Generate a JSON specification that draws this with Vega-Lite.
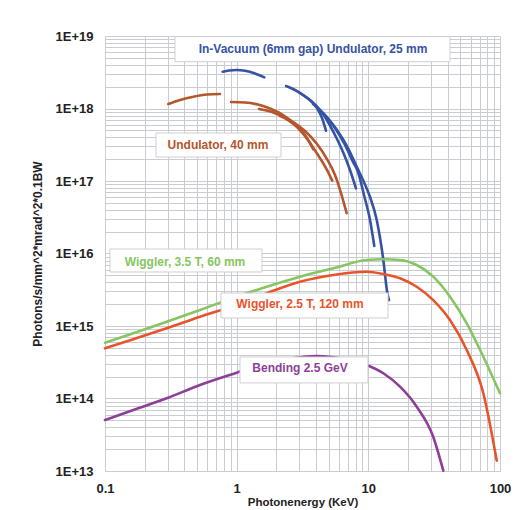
{
  "$schema": "https://vega.github.io/schema/vega-lite/v6.json",
  "width": 395,
  "height": 435,
  "autosize": "none",
  "padding": {"left": 105, "top": 36, "right": 20, "bottom": 39},
  "background": "white",
  "config": {
    "view": {"stroke": null},
    "font": "Liberation Sans"
  },
  "datasets": {
    "curves": [
      {"series": "invac", "seg": "b1", "e": 0.783, "b": 3.22e18},
      {"series": "invac", "seg": "b1", "e": 0.875, "b": 3.34e18},
      {"series": "invac", "seg": "b1", "e": 1.0, "b": 3.40e18},
      {"series": "invac", "seg": "b1", "e": 1.157, "b": 3.31e18},
      {"series": "invac", "seg": "b1", "e": 1.377, "b": 3.04e18},
      {"series": "invac", "seg": "b1", "e": 1.621, "b": 2.69e18},
      {"series": "invac", "seg": "b2", "e": 2.371, "b": 2.04e18},
      {"series": "invac", "seg": "b2", "e": 2.773, "b": 1.80e18},
      {"series": "invac", "seg": "b2", "e": 3.19, "b": 1.535e18},
      {"series": "invac", "seg": "b2", "e": 3.669, "b": 1.268e18},
      {"series": "invac", "seg": "b2", "e": 4.075, "b": 1.016e18},
      {"series": "invac", "seg": "b2", "e": 4.447, "b": 7.39e17},
      {"series": "invac", "seg": "b2", "e": 4.769, "b": 4.94e17},
      {"series": "invac", "seg": "b3", "e": 3.027, "b": 1.636e18},
      {"series": "invac", "seg": "b3", "e": 3.669, "b": 1.268e18},
      {"series": "invac", "seg": "b3", "e": 4.295, "b": 9.54e17},
      {"series": "invac", "seg": "b3", "e": 4.939, "b": 6.51e17},
      {"series": "invac", "seg": "b3", "e": 5.681, "b": 4.04e17},
      {"series": "invac", "seg": "b3", "e": 6.423, "b": 2.51e17},
      {"series": "invac", "seg": "b3", "e": 7.256, "b": 1.419e17},
      {"series": "invac", "seg": "b3", "e": 8.059, "b": 7.93e16},
      {"series": "invac", "seg": "b4", "e": 3.802, "b": 1.153e18},
      {"series": "invac", "seg": "b4", "e": 4.606, "b": 8.40e17},
      {"series": "invac", "seg": "b4", "e": 5.583, "b": 5.38e17},
      {"series": "invac", "seg": "b4", "e": 6.651, "b": 3.14e17},
      {"series": "invac", "seg": "b4", "e": 7.647, "b": 1.83e17},
      {"series": "invac", "seg": "b4", "e": 8.348, "b": 1.33e17},
      {"series": "invac", "seg": "b4", "e": 9.27, "b": 6.41e16},
      {"series": "invac", "seg": "b4", "e": 10.3, "b": 2.90e16},
      {"series": "invac", "seg": "b4", "e": 11.1, "b": 1.27e16},
      {"series": "invac", "seg": "b5", "e": 4.686, "b": 8.13e17},
      {"series": "invac", "seg": "b5", "e": 5.781, "b": 5.05e17},
      {"series": "invac", "seg": "b5", "e": 7.007, "b": 2.85e17},
      {"series": "invac", "seg": "b5", "e": 8.059, "b": 1.66e17},
      {"series": "invac", "seg": "b5", "e": 9.11, "b": 1.03e17},
      {"series": "invac", "seg": "b5", "e": 10.3, "b": 6.02e16},
      {"series": "invac", "seg": "b5", "e": 11.58, "b": 2.90e16},
      {"series": "invac", "seg": "b5", "e": 13.0, "b": 8.13e15},
      {"series": "invac", "seg": "b5", "e": 13.94, "b": 2.85e15},
      {"series": "invac", "seg": "b5", "e": 14.35, "b": 2.28e15},
      {"series": "und", "seg": "r1", "e": 0.3026, "b": 1.153e18},
      {"series": "und", "seg": "r1", "e": 0.3713, "b": 1.31e18},
      {"series": "und", "seg": "r1", "e": 0.4686, "b": 1.455e18},
      {"series": "und", "seg": "r1", "e": 0.5953, "b": 1.56e18},
      {"series": "und", "seg": "r1", "e": 0.747, "b": 1.585e18},
      {"series": "und", "seg": "r2", "e": 0.906, "b": 1.23e18},
      {"series": "und", "seg": "r2", "e": 1.157, "b": 1.21e18},
      {"series": "und", "seg": "r2", "e": 1.452, "b": 1.135e18},
      {"series": "und", "seg": "r2", "e": 1.791, "b": 1.0e18},
      {"series": "und", "seg": "r2", "e": 2.249, "b": 8.13e17},
      {"series": "und", "seg": "r2", "e": 2.773, "b": 6.11e17},
      {"series": "und", "seg": "r2", "e": 3.304, "b": 4.31e17},
      {"series": "und", "seg": "r2", "e": 3.82, "b": 2.74e17},
      {"series": "und", "seg": "r3", "e": 1.478, "b": 9.84e17},
      {"series": "und", "seg": "r3", "e": 1.855, "b": 8.95e17},
      {"series": "und", "seg": "r3", "e": 2.329, "b": 7.39e17},
      {"series": "und", "seg": "r3", "e": 2.872, "b": 5.56e17},
      {"series": "und", "seg": "r3", "e": 3.483, "b": 3.68e17},
      {"series": "und", "seg": "r3", "e": 4.147, "b": 2.28e17},
      {"series": "und", "seg": "r3", "e": 4.769, "b": 1.51e17},
      {"series": "und", "seg": "r3", "e": 5.323, "b": 1.01e17},
      {"series": "und", "seg": "r4", "e": 2.134, "b": 7.88e17},
      {"series": "und", "seg": "r4", "e": 2.679, "b": 6.51e17},
      {"series": "und", "seg": "r4", "e": 3.304, "b": 4.90e17},
      {"series": "und", "seg": "r4", "e": 4.075, "b": 3.24e17},
      {"series": "und", "seg": "r4", "e": 4.853, "b": 2.01e17},
      {"series": "und", "seg": "r4", "e": 5.583, "b": 1.21e17},
      {"series": "und", "seg": "r4", "e": 6.2, "b": 6.83e16},
      {"series": "und", "seg": "r4", "e": 6.85, "b": 3.59e16},
      {"series": "w35", "seg": "g", "e": 0.1, "b": 5.89e14},
      {"series": "w35", "seg": "g", "e": 0.164, "b": 7.93e14},
      {"series": "w35", "seg": "g", "e": 0.294, "b": 1.147e15},
      {"series": "w35", "seg": "g", "e": 0.527, "b": 1.66e15},
      {"series": "w35", "seg": "g", "e": 1.0, "b": 2.54e15},
      {"series": "w35", "seg": "g", "e": 1.691, "b": 3.48e15},
      {"series": "w35", "seg": "g", "e": 3.027, "b": 4.79e15},
      {"series": "w35", "seg": "g", "e": 5.42, "b": 6.25e15},
      {"series": "w35", "seg": "g", "e": 9.72, "b": 8.13e15},
      {"series": "w35", "seg": "g", "e": 13.0, "b": 8.32e15},
      {"series": "w35", "seg": "g", "e": 17.4, "b": 8.13e15},
      {"series": "w35", "seg": "g", "e": 23.3, "b": 6.94e15},
      {"series": "w35", "seg": "g", "e": 31.1, "b": 4.79e15},
      {"series": "w35", "seg": "g", "e": 41.7, "b": 2.54e15},
      {"series": "w35", "seg": "g", "e": 55.9, "b": 1.09e15},
      {"series": "w35", "seg": "g", "e": 74.7, "b": 3.77e14},
      {"series": "w35", "seg": "g", "e": 100, "b": 1.18e14},
      {"series": "w25", "seg": "w", "e": 0.1, "b": 4.92e14},
      {"series": "w25", "seg": "w", "e": 0.164, "b": 6.56e14},
      {"series": "w25", "seg": "w", "e": 0.294, "b": 9.29e14},
      {"series": "w25", "seg": "w", "e": 0.527, "b": 1.343e15},
      {"series": "w25", "seg": "w", "e": 1.0, "b": 1.95e15},
      {"series": "w25", "seg": "w", "e": 1.691, "b": 2.83e15},
      {"series": "w25", "seg": "w", "e": 3.027, "b": 4.08e15},
      {"series": "w25", "seg": "w", "e": 5.42, "b": 5.05e15},
      {"series": "w25", "seg": "w", "e": 9.72, "b": 5.61e15},
      {"series": "w25", "seg": "w", "e": 13.0, "b": 5.21e15},
      {"series": "w25", "seg": "w", "e": 17.4, "b": 4.55e15},
      {"series": "w25", "seg": "w", "e": 23.3, "b": 3.48e15},
      {"series": "w25", "seg": "w", "e": 31.1, "b": 2.28e15},
      {"series": "w25", "seg": "w", "e": 41.7, "b": 1.21e15},
      {"series": "w25", "seg": "w", "e": 55.9, "b": 4.67e14},
      {"series": "w25", "seg": "w", "e": 74.7, "b": 1.18e14},
      {"series": "w25", "seg": "w", "e": 94.4, "b": 1.39e13},
      {"series": "bend", "seg": "p", "e": 0.1, "b": 5.05e13},
      {"series": "bend", "seg": "p", "e": 0.164, "b": 6.94e13},
      {"series": "bend", "seg": "p", "e": 0.294, "b": 1.007e14},
      {"series": "bend", "seg": "p", "e": 0.527, "b": 1.535e14},
      {"series": "bend", "seg": "p", "e": 1.0, "b": 2.27e14},
      {"series": "bend", "seg": "p", "e": 1.691, "b": 3.09e14},
      {"series": "bend", "seg": "p", "e": 3.027, "b": 3.70e14},
      {"series": "bend", "seg": "p", "e": 4.055, "b": 3.86e14},
      {"series": "bend", "seg": "p", "e": 5.42, "b": 3.70e14},
      {"series": "bend", "seg": "p", "e": 9.72, "b": 2.90e14},
      {"series": "bend", "seg": "p", "e": 13.0, "b": 2.23e14},
      {"series": "bend", "seg": "p", "e": 17.4, "b": 1.455e14},
      {"series": "bend", "seg": "p", "e": 23.3, "b": 7.71e13},
      {"series": "bend", "seg": "p", "e": 31.1, "b": 2.97e13},
      {"series": "bend", "seg": "p", "e": 37.1, "b": 1.01e13}
    ],
    "labels": [
      {"series": "invac", "text": "In-Vacuum (6mm gap) Undulator, 25 mm", "x0": 0.34, "x1": 41.7, "y0": 9.8e18, "y1": 4.42e18, "tx": 3.8, "ty": 6.62e18},
      {"series": "und", "text": "Undulator, 40 mm", "x0": 0.244, "x1": 2.172, "y0": 4.59e17, "y1": 2.14e17, "tx": 0.721, "ty": 3.14e17},
      {"series": "w35", "text": "Wiggler, 3.5 T, 60 mm", "x0": 0.109, "x1": 1.557, "y0": 1.153e16, "y1": 5.56e15, "tx": 0.405, "ty": 7.64e15},
      {"series": "w25", "text": "Wiggler, 2.5 T, 120 mm", "x0": 0.76, "x1": 14.11, "y0": 2.85e15, "y1": 1.29e15, "tx": 3.027, "ty": 2.01e15},
      {"series": "bend", "text": "Bending 2.5 GeV", "x0": 1.06, "x1": 9.94, "y0": 3.74e14, "y1": 1.64e14, "tx": 3.027, "ty": 2.64e14}
    ]
  },
  "layer": [
    {
      "data": {"name": "curves"},
      "mark": {"type": "line", "interpolate": "monotone", "strokeWidth": 2.6, "strokeCap": "round"},
      "encoding": {
        "x": {
          "field": "e", "type": "quantitative",
          "scale": {"type": "log", "domain": [0.1, 100], "nice": false},
          "title": "Photonenergy (KeV)",
          "axis": {
            "values": [0.1,0.2,0.3,0.4,0.5,0.6,0.7,0.8,0.9,1,2,3,4,5,6,7,8,9,10,20,30,40,50,60,70,80,90,100],
            "labelExpr": "abs(log(datum.value)/LN10 - round(log(datum.value)/LN10)) < 0.001 ? (datum.value < 1 ? '0.1' : format(datum.value, 'd')) : ''",
            "grid": true, "gridColor": "#c9ccd3", "gridWidth": 1,
            "domain": false, "ticks": false, "tickSize": 0,
            "labelOverlap": false, "labelFlush": false,
            "labelFont": "Liberation Sans", "labelFontSize": 13, "labelFontWeight": "bold", "labelColor": "#222222",
            "labelPadding": 11,
            "titleFont": "Liberation Sans", "titleFontSize": 11.5, "titleFontWeight": "bold", "titleColor": "#222222",
            "titlePadding": 1
          }
        },
        "y": {
          "field": "b", "type": "quantitative",
          "scale": {"type": "log", "domain": [1e13, 1e19], "nice": false},
          "title": "Photons/s/mm^2*mrad^2*0.1BW",
          "axis": {
            "values": [1e13,2e13,3e13,4e13,5e13,6e13,7e13,8e13,9e13,1e14,2e14,3e14,4e14,5e14,6e14,7e14,8e14,9e14,1e15,2e15,3e15,4e15,5e15,6e15,7e15,8e15,9e15,1e16,2e16,3e16,4e16,5e16,6e16,7e16,8e16,9e16,1e17,2e17,3e17,4e17,5e17,6e17,7e17,8e17,9e17,1e18,2e18,3e18,4e18,5e18,6e18,7e18,8e18,9e18,1e19],
            "labelExpr": "abs(log(datum.value)/LN10 - round(log(datum.value)/LN10)) < 0.001 ? '1E+' + round(log(datum.value)/LN10) : ''",
            "grid": true, "gridColor": "#c9ccd3", "gridWidth": 1,
            "domain": false, "ticks": false, "tickSize": 0,
            "labelOverlap": false, "labelFlush": false,
            "labelFont": "Liberation Sans", "labelFontSize": 13, "labelFontWeight": "bold", "labelColor": "#222222",
            "labelPadding": 12,
            "titleFont": "Liberation Sans", "titleFontSize": 12, "titleFontWeight": "bold", "titleColor": "#222222",
            "titlePadding": 11
          }
        },
        "color": {
          "field": "series", "type": "nominal",
          "scale": {"domain": ["invac", "und", "w35", "w25", "bend"], "range": ["#3552a4", "#b5562c", "#86c660", "#e9532b", "#8d3f98"]},
          "legend": null
        },
        "detail": {"field": "seg", "type": "nominal"}
      }
    },
    {
      "data": {"name": "labels"},
      "mark": {"type": "rect", "fill": "white", "stroke": "#cfcfcf", "strokeWidth": 1},
      "encoding": {
        "x": {"field": "x0", "type": "quantitative", "title": "Photonenergy (KeV)"},
        "x2": {"field": "x1"},
        "y": {"field": "y0", "type": "quantitative", "title": "Photons/s/mm^2*mrad^2*0.1BW"},
        "y2": {"field": "y1"}
      }
    },
    {
      "data": {"name": "labels"},
      "mark": {"type": "text", "font": "Liberation Sans", "fontSize": 12, "fontWeight": "bold", "align": "center", "baseline": "middle"},
      "encoding": {
        "x": {"field": "tx", "type": "quantitative", "title": "Photonenergy (KeV)"},
        "y": {"field": "ty", "type": "quantitative", "title": "Photons/s/mm^2*mrad^2*0.1BW"},
        "text": {"field": "text"},
        "color": {"field": "series", "type": "nominal", "legend": null}
      }
    }
  ]
}
